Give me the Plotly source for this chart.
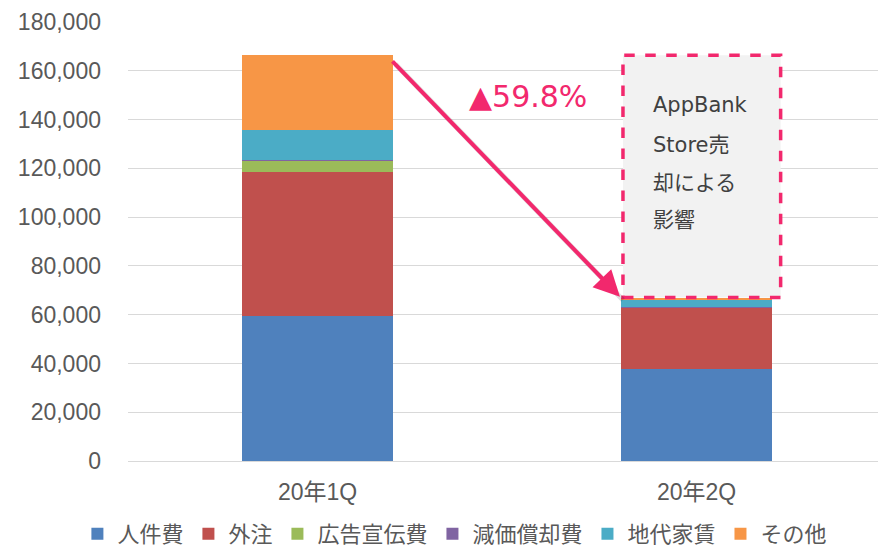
import plotly.graph_objects as go

categories = ["20年1Q", "20年2Q"]
series_names = ["人件費", "外注", "広告宣伝費", "減価償却費", "地代家賃", "その他"]
jinkenhi = [59500, 37700]
gaichu = [59000, 25100]
koukoku = [4600, 100]
genka = [500, 100]
chidai = [12100, 3400]
sonota = [30900, 600]
series_values = [jinkenhi, gaichu, koukoku, genka, chidai, sonota]
colors = ["#4F81BD", "#C0504D", "#9BBB59", "#8064A2", "#4BACC6", "#F79646"]

y_ticks = list(range(0, 180001, 20000))
change_label = "▲59.8%"
box_lines = ["AppBank", "Store売", "却による", "影響"]
pink = "#F2286D"

fig = go.Figure()
for name, vals, c in zip(series_names, series_values, colors):
    fig.add_trace(go.Bar(name=name, x=categories, y=vals, marker=dict(color=c, line=dict(width=0))))

# page body has an 8px margin, so the figure is sized/offset to compensate
fig.update_layout(
    barmode="stack",
    bargap=0.6,
    width=878, height=547,
    margin=dict(l=120, r=0, t=14, b=94),
    plot_bgcolor="white", paper_bgcolor="white",
    font=dict(family="Liberation Sans, Noto Sans CJK JP, sans-serif", color="#595959", size=23),
    legend=dict(orientation="h", xref="container", x=0.509, xanchor="center",
                yref="container", y=-0.018, yanchor="bottom",
                font=dict(size=22, color="#595959", family="Noto Sans CJK JP, sans-serif"),
                traceorder="normal", itemwidth=30),
    showlegend=True,
)
fig.update_yaxes(range=[0, 180000], tickvals=y_ticks, tickformat=",", showgrid=True,
                 gridcolor="#D9D9D9", gridwidth=1.3, zeroline=False, showline=False,
                 ticklabelstandoff=26, tickfont=dict(size=23))
fig.update_xaxes(showline=True, linecolor="#D9D9D9", linewidth=1.3, ticks="",
                 tickfont=dict(size=23, family="Liberation Sans, Noto Sans CJK JP, sans-serif"),
                 ticklabelstandoff=10)

# dashed box
fig.add_shape(type="rect", xref="x", yref="y", x0=0.806, x1=1.222, y0=67000, y1=166400,
              line=dict(color=pink, width=3.5, dash="dash"), fillcolor="#F2F2F2", layer="above")

ys = [146000, 129600, 114000, 98800]
for t, yy in zip(box_lines, ys):
    fig.add_annotation(x=0.88, y=yy, xref="x", yref="y", text=t, showarrow=False,
                       xanchor="left", yanchor="middle",
                       font=dict(family="DejaVu Sans, Noto Sans CJK JP, sans-serif", size=21, color="#404040"))

# arrow shadow
fig.add_annotation(x=0.806, y=66000, xref="x", yref="y", ax=0.202, ay=163300, axref="x", ayref="y",
                   text="", showarrow=True, arrowhead=0, arrowwidth=5, arrowcolor="rgba(0,0,0,0.12)")
# arrow
fig.add_annotation(x=0.798, y=67300, xref="x", yref="y", ax=0.194, ay=164500, axref="x", ayref="y",
                   text="", showarrow=True, arrowhead=2, arrowsize=1.3, arrowwidth=4, arrowcolor=pink,
                   standoff=0, startstandoff=0)

fig.add_annotation(x=0.556, y=149300, xref="x", yref="y", text=change_label, showarrow=False,
                   font=dict(family="DejaVu Sans, sans-serif", size=30, color=pink))

fig.write_html("out.html", config={"displayModeBar": False})
